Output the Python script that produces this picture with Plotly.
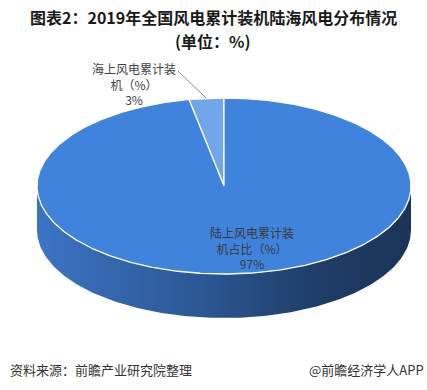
import numpy as np
import plotly.graph_objects as go

# ---- data ----
categories = ["海上风电累计装机（%）", "陆上风电累计装机占比（%）"]
values = [3, 97]
slice_colors = ["#72a6eb", "#3f83dd"]
title_lines = ["图表2：2019年全国风电累计装机陆海风电分布情况", "(单位：%)"]
source_text = "资料来源：前瞻产业研究院整理"
brand_text = "@前瞻经济学人APP"

# ---- geometry (layout) ----
W, H = 427, 390
cx, cy = 224, 186      # centre of top face
a, b = 187, 88         # ellipse radii
depth = 44             # thickness of the pie
start_deg = 90.0       # first slice starts at 12 o'clock, counter-clockwise

def ell(t_deg, dy=0.0):
    t = np.radians(t_deg)
    return cx + a * np.cos(t), cy - b * np.sin(t) + dy

fig = go.Figure()

# side wall (front half)
t_front = np.linspace(180, 360, 200)
xt, yt = ell(t_front)
xb, yb = ell(t_front[::-1], depth)
fig.add_trace(go.Scatter(
    x=np.concatenate([xt, xb, xt[:1]]),
    y=np.concatenate([yt, yb, yt[:1]]),
    mode="lines", fill="toself", line=dict(width=0),
    fillgradient=dict(type="horizontal",
                      colorscale=[[0, "#3c74c5"], [0.45, "#2b5692"], [0.75, "#1f3d68"], [1, "#1b3357"]]),
    hoverinfo="skip", showlegend=False))

# top face slices
total = float(sum(values))
angle = start_deg
mids = []
for val, col in zip(values, slice_colors):
    span = 360.0 * val / total
    ts = np.linspace(angle, angle + span, max(int(span * 2), 4))
    xs, ys = ell(ts)
    fig.add_trace(go.Scatter(
        x=np.concatenate([[cx], xs, [cx]]),
        y=np.concatenate([[cy], ys, [cy]]),
        mode="lines", fill="toself", fillcolor=col,
        line=dict(color="white", width=1.3),
        hoverinfo="skip", showlegend=False))
    mids.append(angle + span / 2)
    angle += span

def wrap(s, n=7):
    return "<br>".join(s[i:i + n] for i in range(0, len(s), n))

pct = [f"{round(v / total * 100)}%" for v in values]
lab_font = dict(family="Noto Sans CJK SC", size=12, color="#404040")

# small slice label with leader line
lx, ly = ell(mids[0])
fig.add_shape(type="line", x0=178, y0=71, x1=lx, y1=ly,
              line=dict(color="#8c8c8c", width=1))
fig.add_annotation(x=134, y=84, text=wrap(categories[0]) + "<br>" + pct[0],
                   showarrow=False, font=lab_font, align="center")

# big slice label
fig.add_annotation(x=252, y=248, text=wrap(categories[1]) + "<br>" + pct[1],
                   showarrow=False, font=dict(family="Noto Sans CJK SC", size=12, color="#3a3a3a"),
                   align="center")

# title (two separate lines)
for txt, ty in zip(title_lines, [17, 41]):
    fig.add_annotation(x=213, y=ty, text="<b>" + txt + "</b>", showarrow=False,
                       font=dict(family="Noto Sans CJK SC", size=16, color="#1a1a1a"))

# footer
fig.add_annotation(x=8, y=369, text=source_text, showarrow=False, xanchor="left",
                   font=dict(family="Noto Sans CJK SC", size=13, color="#333333"))
fig.add_annotation(x=426, y=369, text=brand_text, showarrow=False, xanchor="right",
                   font=dict(family="Noto Sans CJK SC", size=13, color="#333333"))

fig.update_layout(
    width=W, height=H, margin=dict(l=0, r=0, t=0, b=0),
    paper_bgcolor="white", plot_bgcolor="white",
    xaxis=dict(range=[0, W], visible=False, fixedrange=True),
    yaxis=dict(range=[H, 0], visible=False, fixedrange=True),
    showlegend=False,
)

fig.write_html("out.html", config={"displayModeBar": False})

# remove default page margin so the figure sits at the window's corner
with open("out.html", encoding="utf-8") as f:
    html = f.read()
html = html.replace("<body>", '<body style="margin:0;overflow:hidden">', 1)
with open("out.html", "w", encoding="utf-8") as f:
    f.write(html)
